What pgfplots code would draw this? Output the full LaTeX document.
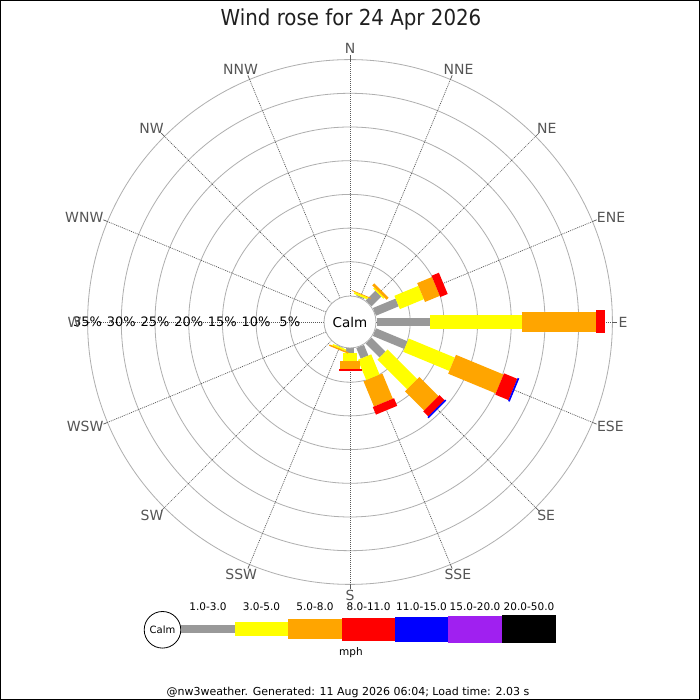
\documentclass[border=0pt]{standalone}
\usepackage{fontspec}
\setmainfont{DejaVu Sans}
\newfontfamily\titlefont[FakeStretch=0.9]{DejaVu Sans}
\usepackage{pgfplots}
\pgfplotsset{compat=1.18}
\usepackage{pgfplotstable}

\definecolor{wgray}{RGB}{153,153,153}
\definecolor{wyellow}{RGB}{255,255,0}
\definecolor{worange}{RGB}{255,165,0}
\definecolor{wred}{RGB}{255,0,0}
\definecolor{wblue}{RGB}{0,0,255}
\definecolor{wpurple}{RGB}{160,32,240}
\definecolor{ringc}{RGB}{175,175,175}
\definecolor{labc}{RGB}{85,85,85}
\definecolor{spokec}{RGB}{90,90,90}

% direction (deg), start %, end % (cumulative)
\pgfplotstableread{
d a b
22.5 0 0.15
45 0 2.00
67.5 0 3.64
90 0 7.94
112.5 0 5.06
135 0 2.89
157.5 0 1.71
180 0 0.67
202.5 0 0.05
}\tgray
\pgfplotstableread{
d a b
22.5 0.15 0.45
45 2.00 2.23
67.5 3.64 7.49
90 7.94 21.54
112.5 5.06 12.46
135 2.89 9.12
157.5 1.71 4.97
180 0.67 1.85
202.5 0.05 0.30
}\tyellow
\pgfplotstableread{
d a b
22.5 0.45 0.56
45 2.23 2.67
67.5 7.49 9.87
90 21.54 32.57
112.5 12.46 20.10
135 9.12 13.13
157.5 4.97 9.02
180 1.85 3.04
202.5 0.30 0.52
}\torange
\pgfplotstableread{
d a b
67.5 9.87 11.05
90 32.57 33.90
112.5 20.10 22.23
135 13.13 14.17
157.5 9.02 10.24
180 3.04 3.34
}\tred
\pgfplotstableread{
d a b
112.5 22.23 22.48
135 14.17 14.42
}\tblue

\newcommand\rz{26.5}
\newcommand\kk{6.74}
\newlength\labw

\pgfplotsset{
  rosebar/.style={-, line cap=butt,
    quiver={u={\kk*(\thisrow{b}-\thisrow{a})*sin(\thisrow{d})},
            v={\kk*(\thisrow{b}-\thisrow{a})*cos(\thisrow{d})}}},
  /pgfplots/table/rosexy/.style={
    /pgfplots/table/x expr={(\rz+\kk*\thisrow{a})*sin(\thisrow{d})},
    /pgfplots/table/y expr={(\rz+\kk*\thisrow{a})*cos(\thisrow{d})}},
}

\begin{document}
\begin{tikzpicture}[x=1pt,y=1pt]
\path[use as bounding box] (0,0) rectangle (700,700);
\fill[white] (0,0) rectangle (700,700);

% rings and spokes
\begin{scope}[shift={(350,378)}]
  \foreach \k in {1,...,7} {
    \pgfmathsetmacro\rr{\rz+\kk*5*\k}
    \draw[ringc, line width=0.8pt] (0,0) circle[radius=\rr pt];
  }
  \foreach \t in {0,22.5,...,337.5} {
    \pgfmathsetmacro\ang{90-\t}
    \pgfmathsetmacro\rout{\rz+\kk*35}
    \draw[spokec, line width=0.7pt, dash pattern=on 1pt off 1pt] (\ang:26) -- (\ang:\rout);
    \draw[spokec, line width=0.7pt] (\ang:\rout) -- (\ang:267);
  }
\end{scope}

\begin{axis}[at={(350,378)}, anchor=center, scale only axis,
  width=600pt, height=600pt,
  xmin=-300, xmax=300, ymin=-300, ymax=300,
  hide axis, clip=false]
  \addplot[rosebar, draw=wgray, line width=8.3pt] table[rosexy] {\tgray};
  \addplot[rosebar, draw=wyellow, line width=14.4pt] table[rosexy] {\tyellow};
  \addplot[rosebar, draw=worange, line width=20.4pt] table[rosexy] {\torange};
  \addplot[rosebar, draw=wred, line width=23pt] table[rosexy] {\tred};
  \addplot[rosebar, draw=wblue, line width=25pt] table[rosexy] {\tblue};
\end{axis}

\begin{scope}[shift={(350,378)}]
  % calm circle
  \draw[ringc, fill=white, line width=0.8pt] (0,0) circle[radius=26pt];
  \node[font=\fontsize{13.5}{14}\selectfont] at (0,0) {Calm};
  % percentage labels
  \foreach \k in {1,...,7} {
    \pgfmathsetmacro\rr{\rz+\kk*5*\k}
    \pgfmathtruncatemacro\pc{5*\k}
    \node[font=\fontsize{13}{14}\selectfont, inner sep=0pt] at (-\rr,0) {\pc\%};
  }
  % compass labels
  \foreach \t/\l in {0/N,22.5/NNE,45/NE,67.5/ENE,90/E,112.5/ESE,135/SE,157.5/SSE,180/S,202.5/SSW,225/SW,247.5/WSW,270/W,292.5/WNW,315/NW,337.5/NNW} {
    \pgfmathsetmacro\ang{90-\t}
    \pgfmathsetmacro\ux{cos(\ang)}
    \pgfmathsetmacro\px{268.5*cos(\ang)}
    \pgfmathsetmacro\py{(268.5+5.1)*sin(\ang)}
    \node[labc, font=\fontsize{14}{14}\selectfont, inner sep=0pt, anchor=center] at (\px,\py)
      {\settowidth\labw{\l}\makebox[0pt]{\hspace{\ux\labw}\l}};
  }
\end{scope}

% title
\node[anchor=base, font=\titlefont\fontsize{22}{22}\selectfont, text=black!88] at (351,674) {Wind rose for 24 Apr 2026};

% legend
\draw[black, fill=white, line width=0.8pt] (162.5,70.2) circle[radius=18.3pt];
\node[font=\fontsize{10}{10}\selectfont] at (162.5,70.2) {Calm};
\fill[wgray]   (181,66.6) rectangle (235,75.0);
\fill[wyellow] (235,63.6) rectangle (288,78.0);
\fill[worange] (288,60.6) rectangle (342,81.0);
\fill[wred]    (342,59.3) rectangle (395,82.3);
\fill[wblue]   (395,58.3) rectangle (448,83.3);
\fill[wpurple] (448,57.3) rectangle (502,84.3);
\fill[black]   (502,56.6) rectangle (556,85.0);
\foreach \x/\l in {208/1.0-3.0,261.5/3.0-5.0,315/5.0-8.0,368.5/8.0-11.0,421.5/11.0-15.0,475/15.0-20.0,529/20.0-50.0} {
  \node[anchor=base, font=\fontsize{10.5}{11}\selectfont, inner sep=0pt] at (\x,89.3) {\l};
}
\node[anchor=base, font=\fontsize{10.5}{11}\selectfont, inner sep=0pt] at (351,44) {mph};

% footer
\node[anchor=base, font=\fontsize{11}{11}\selectfont, inner sep=0pt] at (348,4.6) {@nw3weather. Generated: 11 Aug 2026 06:04; Load time: 2.03 s};

% frame
\draw[black, line width=1pt] (0.5,0.5) rectangle (699.5,699.5);
\end{tikzpicture}
\end{document}
